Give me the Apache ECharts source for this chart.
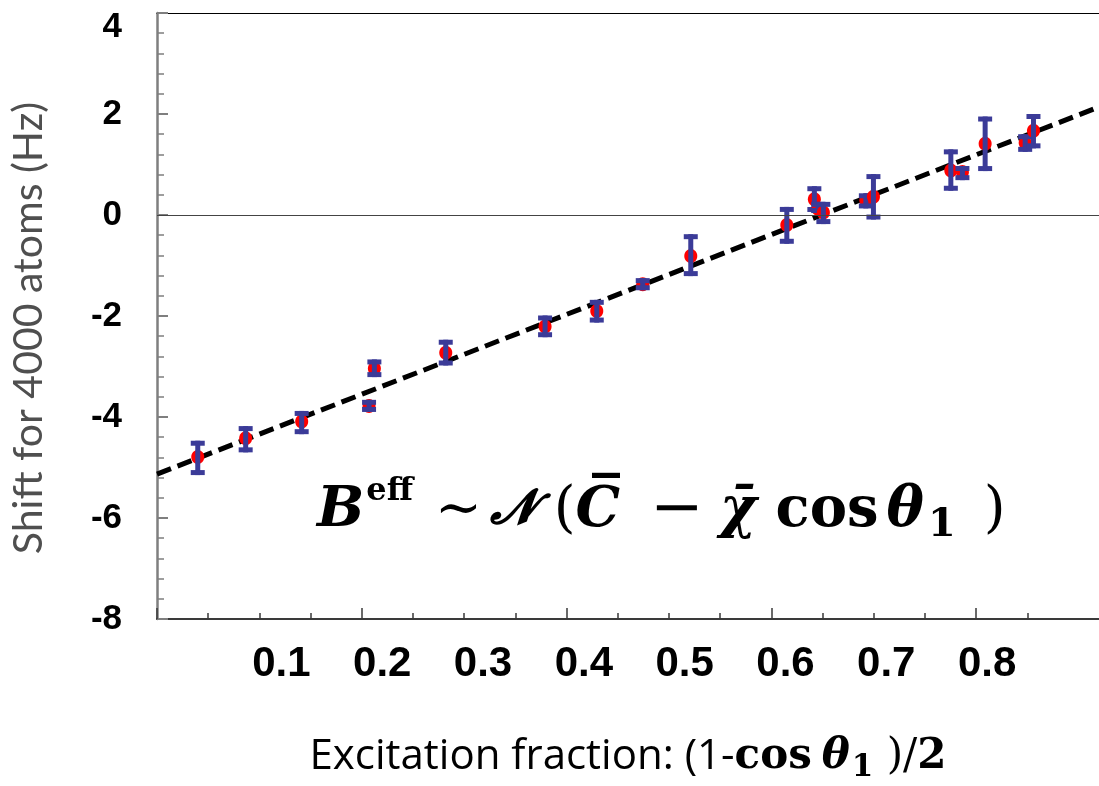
<!DOCTYPE html>
<html><head><meta charset="utf-8">
<script src="https://cdn.jsdelivr.net/npm/echarts@6/dist/echarts.min.js"></script>
<style>html,body{margin:0;padding:0;background:#fff}#c{width:1099px;height:786px}</style>
</head><body><div id="c"></div>
<script>
// ---- data ----
const xValues = [0.0398, 0.0866, 0.1413, 0.2071, 0.2123, 0.2820, 0.3790, 0.4295, 0.4744, 0.5213, 0.6151, 0.6420, 0.6457, 0.6508, 0.6923, 0.6997, 0.7753, 0.7866, 0.8088, 0.8479, 0.8560];
const yValues = [-4.79, -4.42, -4.09, -3.78, -3.04, -2.73, -2.21, -1.90, -1.37, -0.81, -0.20, 0.31, 0.12, 0.05, 0.29, 0.36, 0.88, 0.85, 1.41, 1.43, 1.67];
const yLow    = [-5.15, -4.70, -4.34, -3.90, -3.21, -2.98, -2.42, -2.13, -1.49, -1.21, -0.57, 0.06, 0.04, -0.18, 0.13, -0.09, 0.48, 0.69, 0.87, 1.25, 1.32];
const yHigh   = [-4.47, -4.18, -3.88, -3.66, -2.86, -2.47, -1.99, -1.68, -1.25, -0.38, 0.16, 0.57, 0.26, 0.26, 0.43, 0.81, 1.30, 0.97, 1.95, 1.60, 2.00];
const fitLine = [[0, -5.13], [0.92, 2.14]];
const xTickLabels = [0.1, 0.2, 0.3, 0.4, 0.5, 0.6, 0.7, 0.8];
const xMajorTicks = [0, 0.2, 0.4, 0.6, 0.8];
const xMinorTicks = [0.05, 0.1, 0.15, 0.25, 0.3, 0.35, 0.45, 0.5, 0.55, 0.65, 0.7, 0.75, 0.85];
const yAxisTitle = 'Shift for 4000 atoms (Hz)';

const BLUE = '#3b3b98';
const points = xValues.map((x, i) => [x, yValues[i], yLow[i], yHigh[i]]);

function renderItem(params, api) {
  const c = api.coord([api.value(0), api.value(1)]);
  const lo = api.coord([api.value(0), api.value(2)]);
  const hi = api.coord([api.value(0), api.value(3)]);
  const capW = 14, stem = 5, capH = 5;
  return {
    type: 'group',
    children: [
      {type: 'ellipse', shape: {cx: c[0], cy: c[1], rx: 6.5, ry: 7}, style: {fill: '#ff0000'}},
      {type: 'rect', shape: {x: c[0] - stem / 2, y: hi[1], width: stem, height: lo[1] - hi[1]}, style: {fill: BLUE}},
      {type: 'rect', shape: {x: c[0] - capW / 2, y: hi[1], width: capW, height: capH}, style: {fill: BLUE}},
      {type: 'rect', shape: {x: c[0] - capW / 2, y: lo[1] - capH, width: capW, height: capH}, style: {fill: BLUE}}
    ]
  };
}

const LABELFONT = "'Liberation Sans', Arial, sans-serif";
const SERIF = "'DejaVu Serif', serif";

const chart = echarts.init(document.getElementById('c'), null, {renderer: 'canvas'});
chart.setOption({
  animation: false,
  backgroundColor: '#ffffff',
  grid: {left: 157, right: 0, top: 13, bottom: 167, outerBoundsMode: 'none'},
  xAxis: [
    { // main data axis: line + major ticks + title
      type: 'value', min: 0, max: 0.92, position: 'bottom',
      axisLine: {show: true, onZero: false, lineStyle: {color: '#3a3a3a', width: 2}},
      axisTick: {show: true, inside: true, length: 11, customValues: xMajorTicks, lineStyle: {color: '#3a3a3a', width: 1.5}},
      axisLabel: {show: false}, splitLine: {show: false},
      name: '{a|Excitation fraction: (1-}{b|cos}{c|θ}{s|1}{d| )/}{b|2}',
      nameLocation: 'middle', nameGap: 112,
      nameTextStyle: {
        rich: {
          a: {fontFamily: "'Open Sans', sans-serif", fontSize: 42, color: '#000', lineHeight: 52},
          b: {fontFamily: SERIF, fontWeight: 'bold', fontSize: 42, color: '#000', lineHeight: 52},
          c: {fontFamily: SERIF, fontWeight: 'bold', fontStyle: 'italic', fontSize: 42, color: '#000', lineHeight: 52, padding: [0, 0, 0, 10]},
          s: {fontFamily: SERIF, fontWeight: 'bold', fontSize: 31, color: '#000', lineHeight: 36, verticalAlign: 'bottom', padding: [0, 0, 0, 2]},
          d: {fontFamily: SERIF, fontSize: 42, color: '#000', lineHeight: 52}
        }
      }
    },
    { // label axis
      type: 'value', min: -0.0234, max: 0.911, position: 'bottom',
      axisLine: {show: false, onZero: false}, axisTick: {show: false}, splitLine: {show: false},
      axisLabel: {show: true, customValues: xTickLabels, formatter: v => v.toFixed(1),
        fontFamily: LABELFONT, fontWeight: 'bold', fontSize: 42, color: '#000', margin: 24}
    },
    { // top border
      type: 'value', min: 0, max: 0.92, position: 'top',
      axisLine: {show: true, onZero: false, lineStyle: {color: '#000', width: 1}},
      axisTick: {show: false}, axisLabel: {show: false}, splitLine: {show: false}
    },
    { // minor ticks
      type: 'value', min: 0, max: 0.92, position: 'bottom',
      axisLine: {show: false, onZero: false},
      axisTick: {show: true, inside: true, length: 6, customValues: xMinorTicks, lineStyle: {color: '#3a3a3a', width: 1.5}},
      axisLabel: {show: false}, splitLine: {show: false}
    }
  ],
  yAxis: {
    type: 'value', min: -8, max: 4, interval: 2,
    axisLine: {show: true, onZero: false, lineStyle: {color: '#7f7f7f', width: 2.5}},
    axisTick: {show: true, inside: true, length: 11, lineStyle: {color: '#7f7f7f', width: 2}},
    minorTick: {show: true, splitNumber: 5, length: 7, lineStyle: {color: '#7f7f7f', width: 1.5}},
    splitLine: {show: false},
    axisLabel: {fontFamily: LABELFONT, fontWeight: 'bold', fontSize: 35, color: '#000', margin: 35,
      formatter: v => (v === 4 ? '{t|4}' : String(v)),
      rich: {t: {fontFamily: LABELFONT, fontWeight: 'bold', fontSize: 35, color: '#000', padding: [28, 0, 0, 0]}}},
    name: yAxisTitle, nameLocation: 'middle', nameGap: 108, nameRotate: 90,
    nameTextStyle: {fontFamily: "Lato, 'Open Sans', sans-serif", fontSize: 41, color: '#4f4f4f', padding: [0, 24, 0, 0]}
  },
  graphic: [{
    type: 'text', x: 317, y: 476,
    style: {
      align: 'left', verticalAlign: 'top',
      text: '{B|B}{sup|eff}{op|~}{N|𝓝}{op| (}{v|C\u0305}{m|−}{v|χ\u0304}{cos|cos}{th|θ}{sub|1}{rp|)}',
      rich: {
        B: {fontFamily: SERIF, fontWeight: 'bold', fontStyle: 'italic', fontSize: 56, lineHeight: 70, fill: '#000'},
        sup: {fontFamily: SERIF, fontWeight: 'bold', fontSize: 32, lineHeight: 32, verticalAlign: 'top', fill: '#000', padding: [0, 22, 0, 2]},
        op: {fontFamily: SERIF, fontSize: 56, lineHeight: 70, fill: '#000'},
        rp: {fontFamily: SERIF, fontSize: 56, lineHeight: 70, fill: '#000', padding: [0, 0, 0, 28]},
        m: {fontFamily: SERIF, fontSize: 64, lineHeight: 70, fill: '#000', padding: [0, 16, 0, 30]},
        N: {fontFamily: SERIF, fontWeight: 'bold', fontStyle: 'italic', fontSize: 48, lineHeight: 70, fill: '#000', padding: [0, 0, 0, 8]},
        v: {fontFamily: SERIF, fontWeight: 'bold', fontStyle: 'italic', fontSize: 56, lineHeight: 70, fill: '#000'},
        cos: {fontFamily: SERIF, fontWeight: 'bold', fontSize: 56, lineHeight: 70, fill: '#000', padding: [0, 8, 0, 19]},
        th: {fontFamily: SERIF, fontWeight: 'bold', fontStyle: 'italic', fontSize: 56, lineHeight: 70, fill: '#000'},
        sub: {fontFamily: SERIF, fontWeight: 'bold', fontSize: 40, lineHeight: 38, verticalAlign: 'bottom', fill: '#000', padding: [0, 0, 0, 4]}
      }
    }
  }],
  series: [
    {
      type: 'line', data: fitLine, xAxisIndex: 0, yAxisIndex: 0, z: 2,
      symbol: 'none', lineStyle: {color: '#000', width: 5, type: [15, 7]},
      markLine: {silent: true, symbol: ['none', 'none'], label: {show: false},
        lineStyle: {type: 'solid', color: '#444', width: 1.2}, data: [{yAxis: 0}]}
    },
    {
      type: 'custom', data: points, xAxisIndex: 0, yAxisIndex: 0, z: 3,
      renderItem: renderItem, encode: {x: 0, y: [1, 2, 3]}
    }
  ]
});
</script></body></html>
